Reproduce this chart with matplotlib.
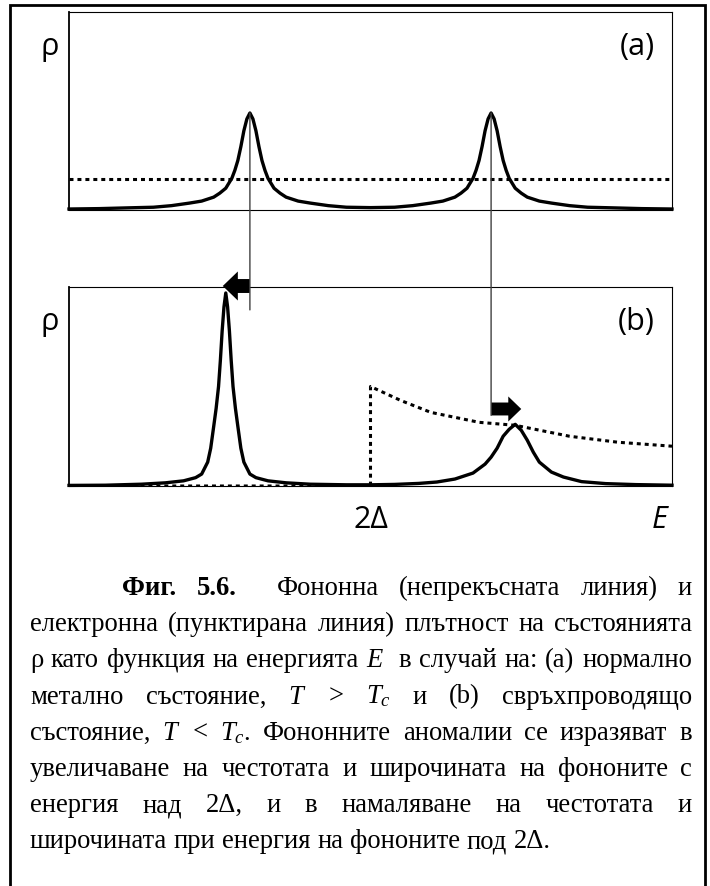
import matplotlib
matplotlib.use("Agg")
import matplotlib.pyplot as plt
from matplotlib.patches import ConnectionPatch, FancyArrow
from matplotlib.lines import Line2D

plt.rcParams['mathtext.fontset'] = 'custom'
plt.rcParams['mathtext.rm'] = 'Liberation Serif'
plt.rcParams['mathtext.it'] = 'Liberation Serif:italic'

# (a) normal metal: phonon density of states (solid) and flat electron DOS (dotted)
energy_a = [0, 0.5, 1.0, 1.4, 1.7, 2.0, 2.2, 2.4, 2.5, 2.6,
            2.7, 2.75, 2.8, 2.85, 2.9, 2.95, 3.0, 3.05, 3.1, 3.15,
            3.2, 3.25, 3.3, 3.4, 3.5, 3.6, 3.8, 4.0, 4.3, 4.6,
            5.0, 5.4, 5.7, 6.0, 6.2, 6.4, 6.5, 6.6, 6.7, 6.75,
            6.8, 6.85, 6.9, 6.95, 7.0, 7.05, 7.1, 7.15, 7.2, 7.25,
            7.3, 7.4, 7.5, 7.6, 7.8, 8.0, 8.3, 8.6, 9.0, 9.5, 10.0]
phonon_a = [0.005, 0.007, 0.011, 0.014, 0.022, 0.035, 0.045, 0.065, 0.085, 0.11,
            0.16, 0.20, 0.25, 0.32, 0.40, 0.46, 0.49, 0.46, 0.40, 0.32,
            0.25, 0.20, 0.16, 0.11, 0.085, 0.065, 0.045, 0.035, 0.022, 0.014,
            0.012, 0.014, 0.022, 0.035, 0.045, 0.065, 0.085, 0.11, 0.16, 0.20,
            0.25, 0.32, 0.40, 0.46, 0.49, 0.46, 0.40, 0.32, 0.25, 0.20,
            0.16, 0.11, 0.085, 0.065, 0.045, 0.035, 0.022, 0.014, 0.011, 0.007, 0.005]
elec_a_x = [0, 10]
elec_a_y = [0.157, 0.157]

# (b) superconductor: shifted phonon peaks and gapped electron DOS
energy_b = [0, 0.6, 1.2, 1.6, 1.9, 2.1, 2.2, 2.3, 2.35, 2.4,
            2.44, 2.48, 2.51, 2.54, 2.57, 2.6, 2.63, 2.66, 2.69, 2.72,
            2.76, 2.8, 2.85, 2.9, 3.0, 3.1, 3.3, 3.6, 4.0, 4.6,
            5.0, 5.4, 5.8, 6.1, 6.4, 6.7, 6.9, 7.0, 7.1, 7.2,
            7.3, 7.4, 7.5, 7.6, 7.7, 7.8, 8.0, 8.2, 8.5, 8.9, 9.4, 10.0]
phonon_b = [0.003, 0.004, 0.009, 0.016, 0.026, 0.042, 0.06, 0.12, 0.19, 0.30,
            0.39, 0.50, 0.63, 0.78, 0.90, 0.97, 0.90, 0.78, 0.63, 0.50,
            0.39, 0.30, 0.19, 0.12, 0.06, 0.042, 0.026, 0.016, 0.009, 0.006,
            0.006, 0.008, 0.013, 0.02, 0.035, 0.065, 0.11, 0.145, 0.19, 0.25,
            0.285, 0.31, 0.28, 0.23, 0.17, 0.12, 0.07, 0.045, 0.022, 0.012, 0.007, 0.004]
elec_b_x = [0, 5.0, 5.0, 5.5, 6.0, 6.8, 7.4, 8.3, 9.1, 10.0]
elec_b_y = [0, 0, 0.50, 0.43, 0.37, 0.32, 0.305, 0.25, 0.22, 0.20]

gap_energy = 5.0            # position of 2Δ
peaks_a = [3.0, 7.0]        # phonon peaks in the normal state
peak_heights_a = [0.49, 0.49]
arrow_tips = [2.55, 7.5]    # where the peaks move below Tc
arrow_levels = [1.005, 0.387]
guide_ends = [0.885, 0.355]

caption = [
    "Фиг. 5.6.  Фононна (непрекъсната линия) и",
    "електронна (пунктирана линия) плътност на състоянията",
    "ρ като функция на енергията $E$  в случай на: (а) нормално",
    "метално състояние, $T$ > $T_c$ и (b) свръхпроводящо",
    "състояние, $T$ < $T_c$. Фононните аномалии се изразяват в",
    "увеличаване на честотата и широчината на фононите с",
    "енергия над 2Δ, и в намаляване на честотата и",
    "широчината при енергия на фононите под 2Δ.",
]
bold_words = {"Фиг.", "5.6."}

W, H = 710, 886
fig = plt.figure(figsize=(W / 100, H / 100), dpi=100)


def px_axes(left, top, right, bottom):
    return fig.add_axes([left / W, 1 - bottom / H, (right - left) / W, (bottom - top) / H])


ax_a = px_axes(69, 12, 672, 210)
ax_b = px_axes(69, 287, 672, 486)

label_font = ['Open Sans', 'DejaVu Sans']
dots = (0, (1.3, 1.3))

for ax, tag in ((ax_a, '(a)'), (ax_b, '(b)')):
    ax.set_xlim(0, 10)
    ax.set_ylim(0, 1)
    ax.set_xticks([])
    ax.set_yticks([])
    for s in ax.spines.values():
        s.set_linewidth(0.8)
    ax.spines['left'].set_linewidth(1.3)
    ax.text(-0.032, 0.785, 'ρ', transform=ax.transAxes, ha='center', va='baseline',
            fontsize=22, family=label_font)
    ax.text(0.972, 0.785, tag, transform=ax.transAxes, ha='right', va='baseline',
            fontsize=22, family=label_font)

ax_a.plot(elec_a_x, elec_a_y, color='black', lw=2.2, linestyle=dots, dash_capstyle='butt')
ax_a.plot(energy_a, phonon_a, color='black', lw=2.4, clip_on=False, zorder=3)

ax_b.plot(elec_b_x, elec_b_y, color='black', lw=2.2, linestyle=dots, dash_capstyle='butt')
ax_b.plot(energy_b, phonon_b, color='black', lw=2.4, clip_on=False, zorder=3)

# thin guides from the normal-state peaks down into panel (b)
for x0, h0, yend in zip(peaks_a, peak_heights_a, guide_ends):
    con = ConnectionPatch(xyA=(x0, h0), coordsA=ax_a.transData,
                          xyB=(x0, yend), coordsB=ax_b.transData,
                          color='#404040', lw=1.0, zorder=5)
    fig.add_artist(con)

# block arrows showing the shift of each peak
arrow_shapes = [(0.07, 0.146, 0.25), (0.065, 0.126, 0.215)]
for x0, tip, yy, (w, hw, hl) in zip(peaks_a, arrow_tips, arrow_levels, arrow_shapes):
    ax_b.add_patch(FancyArrow(x0, yy, tip - x0, 0, width=w, head_width=hw, head_length=hl,
                              length_includes_head=True, color='black', lw=0,
                              clip_on=False, zorder=6))

ax_b.text(gap_energy, -0.211, '2Δ', transform=ax_b.get_xaxis_transform(),
          ha='center', va='baseline', fontsize=22, family=label_font)
ax_b.text(0.992, -0.211, 'E', transform=ax_b.transAxes, ha='right', va='baseline',
          fontsize=22, style='italic', family=label_font)

# outer frame (open at the bottom)
fig.add_artist(Line2D([10 / W, 10 / W, 705 / W, 705 / W], [0, 1 - 5 / H, 1 - 5 / H, 0],
                      transform=fig.transFigure, color='black', lw=2.0,
                      solid_joinstyle='miter'))

# justified caption, one Text per word
cap_size = 19.2
left_px, right_px, indent_px = 30, 692, 122
base0, step = 595, 36.2
renderer = fig.canvas.get_renderer()

space = fig.text(0, 0, 'н н', fontsize=cap_size, family='Liberation Serif')
nospace = fig.text(0, 0, 'нн', fontsize=cap_size, family='Liberation Serif')
space_px = (space.get_window_extent(renderer).width
            - nospace.get_window_extent(renderer).width)
space.remove()
nospace.remove()

for i, line in enumerate(caption):
    tokens = line.split(' ')
    words, gaps = [], []
    extra = 0
    for tok in tokens:
        if tok == '':
            extra += 1
            continue
        if words:
            gaps.append(1 + extra)
        extra = 0
        weight = 'bold' if tok in bold_words else 'normal'
        t = fig.text(0, 0, tok, fontsize=cap_size, family='Liberation Serif',
                     weight=weight, va='baseline')
        words.append((t, t.get_window_extent(renderer).width))
    start = indent_px if i == 0 else left_px
    total = sum(w for _, w in words)
    if i < len(caption) - 1:
        unit = (right_px - start - total) / sum(gaps)
    else:
        unit = space_px
    x = start
    y = 1 - (base0 + i * step) / H
    for k, (t, w) in enumerate(words):
        t.set_position((x / W, y))
        x += w
        if k < len(gaps):
            x += gaps[k] * unit

fig.savefig('out.png', dpi=100)
